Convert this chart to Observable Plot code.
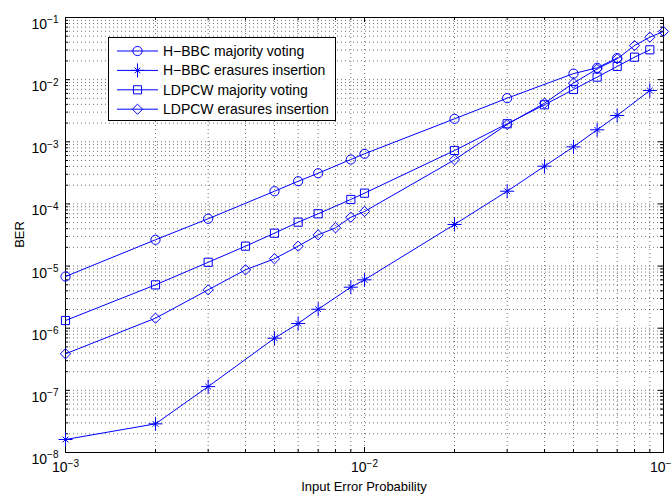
<!DOCTYPE html>
<html><head><meta charset="utf-8">
<script src="https://cdn.jsdelivr.net/npm/d3@7"></script>
<script src="https://cdn.jsdelivr.net/npm/@observablehq/plot@0.6"></script>
<style>
html,body{margin:0;padding:0;background:#fff;}
#chart{position:relative;width:672px;height:497px;overflow:hidden;}
#chart svg{font-family:"Liberation Sans",Arial,Helvetica,sans-serif;}
</style></head><body><div id="chart"></div>
<script>
// ---- data ----
const seriesNames = ["H\u2212BBC majority voting","H\u2212BBC erasures insertion","LDPCW majority voting","LDPCW erasures insertion"];
const seriesSymbols = ["circle","star8","square","diamond2"];

const hbbcMajX = [0.001,0.002,0.003,0.005,0.006,0.007,0.009,0.01,0.02,0.03,0.05,0.06,0.07];
const hbbcMajY = [6.8e-6,2.65e-5,5.77e-5,1.60e-4,2.32e-4,3.12e-4,5.19e-4,6.41e-4,2.34e-3,5.03e-3,1.25e-2,1.55e-2,2.23e-2];

const hbbcEraX = [0.001,0.002,0.003,0.005,0.006,0.007,0.009,0.01,0.02,0.03,0.04,0.05,0.06,0.07,0.09];
const hbbcEraY = [1.62e-8,2.89e-8,1.15e-7,6.90e-7,1.19e-6,2.02e-6,4.57e-6,6.01e-6,4.67e-5,1.60e-4,4.05e-4,8.30e-4,1.56e-3,2.65e-3,6.69e-3];

const ldpcMajX = [0.001,0.002,0.003,0.004,0.005,0.006,0.007,0.009,0.01,0.02,0.03,0.04,0.05,0.06,0.07,0.08,0.09];
const ldpcMajY = [1.33e-6,4.99e-6,1.15e-5,2.09e-5,3.38e-5,5.08e-5,6.94e-5,1.18e-4,1.49e-4,7.24e-4,1.95e-3,3.94e-3,6.94e-3,1.10e-2,1.63e-2,2.30e-2,3.02e-2];

const ldpcEraX = [0.001,0.002,0.003,0.004,0.005,0.006,0.007,0.008,0.009,0.01,0.02,0.03,0.04,0.05,0.06,0.07,0.08,0.09,0.1];
const ldpcEraY = [3.87e-7,1.45e-6,4.15e-6,8.71e-6,1.31e-5,2.09e-5,3.18e-5,4.13e-5,6.11e-5,7.55e-5,5.13e-4,1.90e-3,4.18e-3,8.8e-3,1.49e-2,2.16e-2,3.54e-2,4.82e-2,5.95e-2];

const xMajorTicks = [1e-3,1e-2,1e-1];
const yMajorTicks = [1e-8,1e-7,1e-6,1e-5,1e-4,1e-3,1e-2,1e-1];
const minorMultipliers = [2,3,4,5,6,7,8,9];

const xLabel = "Input Error Probability";
const yLabel = "BER";

// ---- build ----
const W = 672, H = 497, mL = 65, mR = 9, mT = 17, mB = 45;
const plotH = H - mT - mB, plotW = W - mL - mR;
const blue = "#0000ff";

const seriesX = [hbbcMajX, hbbcEraX, ldpcMajX, ldpcEraX];
const seriesY = [hbbcMajY, hbbcEraY, ldpcMajY, ldpcEraY];
const data = seriesX.map((xs, i) => xs.map((x, j) => ({x, y: seriesY[i][j], s: i})));

const xMinor = xMajorTicks.slice(0, -1).flatMap(d => minorMultipliers.map(m => d * m));
const yMinor = yMajorTicks.slice(0, -1).flatMap(d => minorMultipliers.map(m => d * m));
const xAllTicks = xMajorTicks.concat(xMinor);
const yAllTicks = yMajorTicks.concat(yMinor);

const grid = {stroke: "#000", strokeOpacity: 0.55, strokeDasharray: "1,3", strokeWidth: 1};
const majL = 5, minL = 3;

function seriesMarks(i) {
  const d = data[i];
  const marks = [Plot.line(d, {x: "x", y: "y", stroke: blue, strokeWidth: 1})];
  const sym = seriesSymbols[i];
  if (sym === "star8") {
    marks.push(Plot.dot(d, {x: "x", y: "y", symbol: "plus", r: 4.6, stroke: blue, fill: "none", strokeWidth: 1}));
    marks.push(Plot.dot(d, {x: "x", y: "y", symbol: "times", r: 2.7, stroke: blue, fill: "none", strokeWidth: 1}));
  } else {
    marks.push(Plot.dot(d, {x: "x", y: "y", symbol: sym, r: 4.6, stroke: blue, fill: "none", strokeWidth: 1}));
  }
  return marks;
}

const expFmt = d => String(Math.round(Math.log10(d)));

const chart = Plot.plot({
  width: W, height: H,
  marginLeft: mL, marginRight: mR, marginTop: mT, marginBottom: mB,
  style: {fontFamily: "'Liberation Sans', Arial, sans-serif", fontSize: "14px", background: "#fff", color: "#000"},
  x: {type: "log", domain: [1e-3, 1e-1], ticks: xMajorTicks, tickFormat: expFmt, label: null, tickSize: 0, tickPadding: 10},
  y: {type: "log", domain: [1e-8, 1e-1], ticks: yMajorTicks, tickFormat: expFmt, label: null, tickSize: 0, tickPadding: 7},
  marks: [
    Plot.ruleX(xAllTicks, {x: d => d, ...grid}),
    Plot.ruleY(yAllTicks, {y: d => d, ...grid}),
    // inside tick marks on all four sides
    Plot.tickX(xMajorTicks, {x: d => d, insetTop: plotH - majL, stroke: "#000"}),
    Plot.tickX(xMajorTicks, {x: d => d, insetBottom: plotH - majL, stroke: "#000"}),
    Plot.tickX(xMinor, {x: d => d, insetTop: plotH - minL, stroke: "#000"}),
    Plot.tickX(xMinor, {x: d => d, insetBottom: plotH - minL, stroke: "#000"}),
    Plot.tickY(yMajorTicks, {y: d => d, insetRight: plotW - majL, stroke: "#000"}),
    Plot.tickY(yMajorTicks, {y: d => d, insetLeft: plotW - majL, stroke: "#000"}),
    Plot.tickY(yMinor, {y: d => d, insetRight: plotW - minL, stroke: "#000"}),
    Plot.tickY(yMinor, {y: d => d, insetLeft: plotW - minL, stroke: "#000"}),
    Plot.frame({stroke: "#000", strokeWidth: 1}),
    ...seriesMarks(0), ...seriesMarks(1), ...seriesMarks(2), ...seriesMarks(3)
  ]
});

document.getElementById("chart").appendChild(chart);
const svg = d3.select(chart);

// superscript tick labels: 10^k
function superscript(sel, isY) {
  sel.each(function() {
    const t = d3.select(this);
    const k = t.text().replace("-", "\u2212");
    t.text(null);
    if (isY) t.attr("dy", "0.5em");
    t.append("tspan").text("10");
    t.append("tspan").attr("dy", "-0.55em").attr("font-size", "10px").text(k);
  });
}
superscript(svg.selectAll('g[aria-label="y-axis tick label"] text'), true);
superscript(svg.selectAll('g[aria-label="x-axis tick label"] text'), false);

// axis titles
svg.append("text").attr("x", mL + plotW / 2).attr("y", 491).attr("text-anchor", "middle")
  .attr("font-size", "13px").attr("fill", "#000").text(xLabel);
svg.append("text").attr("transform", `translate(24,${mT + plotH / 2}) rotate(-90)`).attr("text-anchor", "middle")
  .attr("font-size", "13px").attr("fill", "#000").text(yLabel);

// legend
const lg = svg.append("g").attr("font-size", "14px").attr("text-anchor", "start");
lg.append("rect").attr("x", 108.5).attr("y", 37.5).attr("width", 227).attr("height", 83)
  .attr("fill", "#fff").attr("stroke", "#000").attr("stroke-width", 1);
const symArea = r => Math.PI * r * r;
seriesNames.forEach((name, i) => {
  const cy = 51 + i * 19.4;
  const g = lg.append("g");
  g.append("line").attr("x1", 117).attr("x2", 158).attr("y1", cy).attr("y2", cy).attr("stroke", blue).attr("stroke-width", 1);
  const addSym = (type, r) => g.append("path").attr("d", d3.symbol(type, symArea(r))()).attr("transform", `translate(137.5,${cy})`)
    .attr("fill", "none").attr("stroke", blue).attr("stroke-width", 1);
  const s = seriesSymbols[i];
  if (s === "circle") addSym(d3.symbolCircle, 4.6);
  else if (s === "square") addSym(d3.symbolSquare, 4.6);
  else if (s === "diamond2") addSym(d3.symbolDiamond2, 4.6);
  else { addSym(d3.symbolPlus, 4.6); addSym(d3.symbolTimes, 2.7); }
  g.append("text").attr("x", 163).attr("y", cy).attr("dy", "0.35em").attr("text-anchor", "start").attr("fill", "#000").text(name);
});
</script>
</body></html>
